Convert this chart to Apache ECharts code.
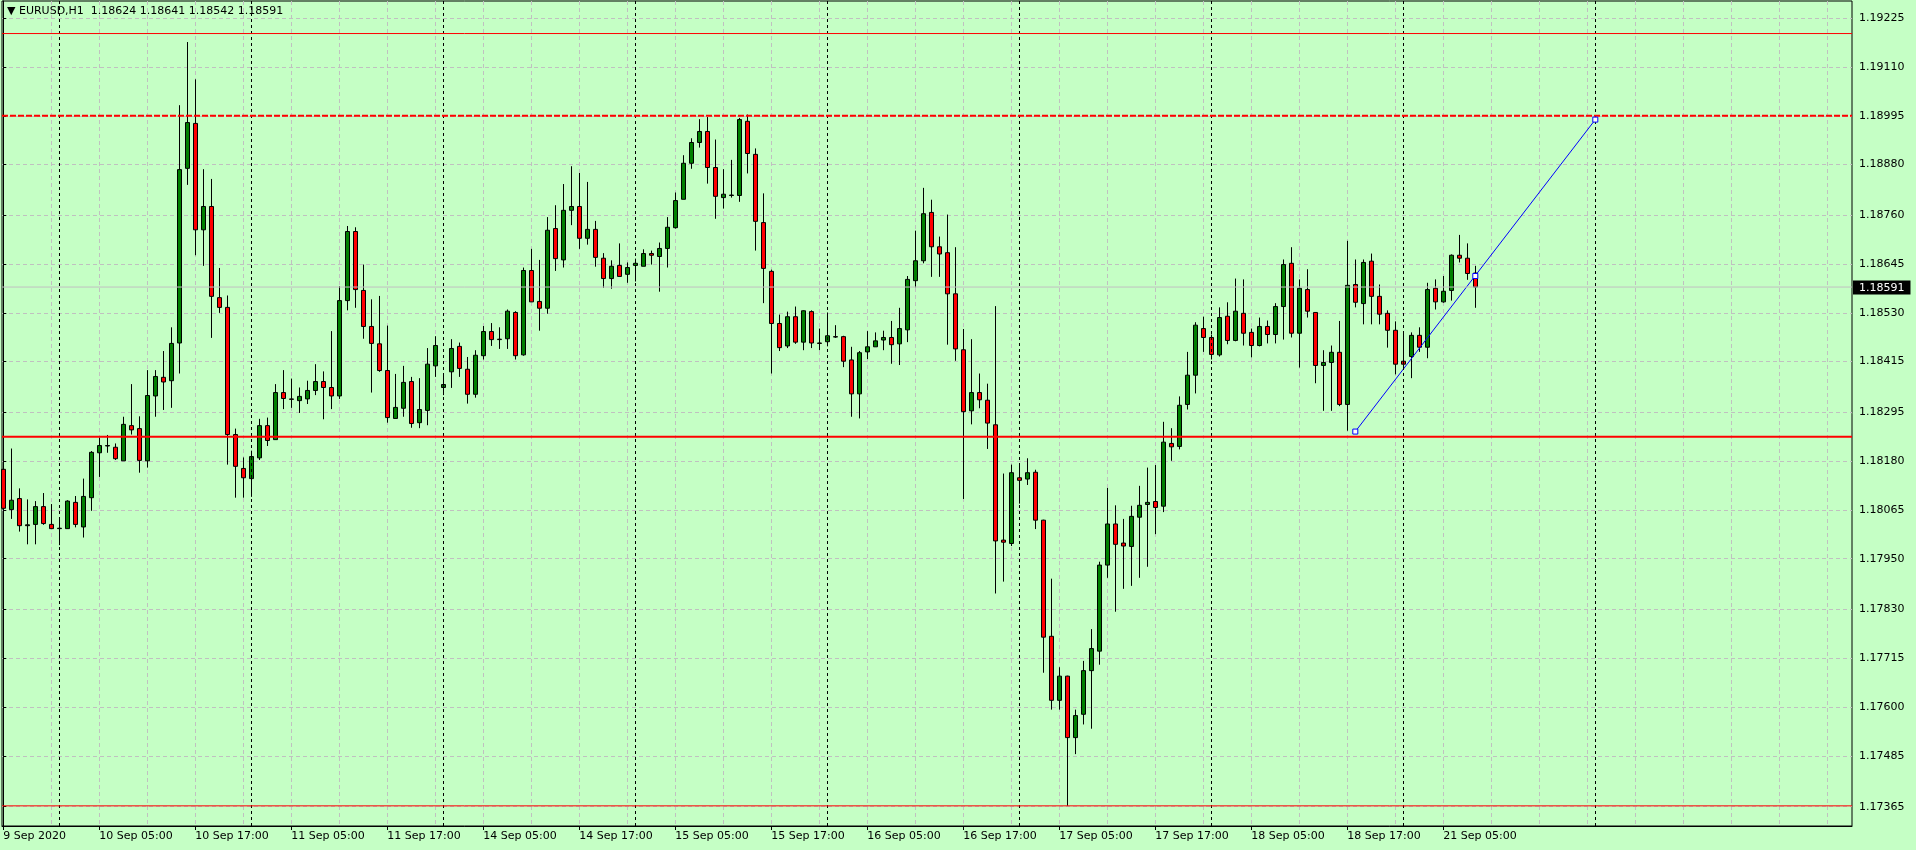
<!DOCTYPE html>
<html><head><meta charset="utf-8">
<script src="https://cdn.jsdelivr.net/npm/echarts@6/dist/echarts.min.js"></script>
<style>html,body{margin:0;padding:0;background:#c5ffc5;}#c{width:1916px;height:850px;}</style>
</head><body><div id="c"></div>
<script>
const symbolName = 'EURUSD,H1';
const open = [1.18161,1.18066,1.18092,1.18028,1.18031,1.18073,1.18031,1.18021,1.18021,1.18083,
1.18025,1.18094,1.18200,1.18216,1.18213,1.18181,1.18264,1.18257,1.18181,1.18334,
1.18378,1.18370,1.18459,1.18871,1.18977,1.18726,1.18781,1.18566,1.18543,1.18243,
1.18163,1.18139,1.18188,1.18264,1.18231,1.18342,1.18327,1.18323,1.18327,1.18347,
1.18368,1.18354,1.18334,1.18559,1.18722,1.18583,1.18498,1.18457,1.18394,1.18281,
1.18305,1.18368,1.18271,1.18300,1.18405,1.18354,1.18391,1.18451,1.18397,1.18338,
1.18429,1.18486,1.18467,1.18469,1.18531,1.18431,1.18630,1.18557,1.18541,1.18729,
1.18655,1.18772,1.18781,1.18706,1.18727,1.18659,1.18611,1.18642,1.18621,1.18642,
1.18640,1.18670,1.18663,1.18682,1.18731,1.18798,1.18883,1.18932,1.18958,1.18873,
1.18802,1.18807,1.18807,1.18982,1.18904,1.18743,1.18628,1.18505,1.18452,1.18521,
1.18461,1.18533,1.18459,1.18462,1.18474,1.18474,1.18419,1.18339,1.18438,1.18450,
1.18466,1.18472,1.18457,1.18490,1.18606,1.18653,1.18767,1.18686,1.18672,1.18575,
1.18443,1.18299,1.18342,1.18324,1.18266,1.17994,1.17986,1.18141,1.18138,1.18154,
1.18041,1.17767,1.17616,1.17673,1.17528,1.17583,1.17686,1.17732,1.17935,1.18032,
1.17987,1.17979,1.18048,1.18078,1.18085,1.18074,1.18222,1.18215,1.18314,1.18383,
1.18493,1.18472,1.18431,1.18522,1.18465,1.18529,1.18484,1.18453,1.18498,1.18479,
1.18545,1.18647,1.18482,1.18585,1.18531,1.18406,1.18413,1.18437,1.18314,1.18597,
1.18552,1.18652,1.18569,1.18529,1.18489,1.18416,1.18427,1.18477,1.18449,1.18588,
1.18556,1.18583,1.18666,1.18659,1.18624];
const high = [1.18334,1.18210,1.18116,1.18090,1.18086,1.18105,1.18079,1.18045,1.18088,1.18098,
1.18139,1.18204,1.18236,1.18242,1.18222,1.18285,1.18362,1.18286,1.18395,1.18395,
1.18440,1.18496,1.19020,1.19169,1.19081,1.18869,1.18846,1.18636,1.18571,1.18257,
1.18189,1.18205,1.18280,1.18283,1.18362,1.18395,1.18375,1.18354,1.18370,1.18409,
1.18392,1.18487,1.18593,1.18735,1.18732,1.18644,1.18562,1.18570,1.18500,1.18386,
1.18405,1.18379,1.18376,1.18447,1.18475,1.18386,1.18468,1.18460,1.18426,1.18442,
1.18499,1.18506,1.18496,1.18538,1.18534,1.18637,1.18681,1.18655,1.18756,1.18784,
1.18834,1.18876,1.18860,1.18839,1.18747,1.18671,1.18654,1.18694,1.18649,1.18658,
1.18680,1.18677,1.18696,1.18756,1.18814,1.18902,1.18942,1.18987,1.18992,1.18939,
1.18869,1.18891,1.18990,1.18998,1.18918,1.18812,1.18632,1.18526,1.18533,1.18545,
1.18536,1.18536,1.18493,1.18531,1.18501,1.18476,1.18450,1.18440,1.18487,1.18484,
1.18488,1.18511,1.18542,1.18617,1.18724,1.18825,1.18797,1.18710,1.18762,1.18685,
1.18492,1.18468,1.18387,1.18363,1.18546,1.18151,1.18172,1.18174,1.18187,1.18160,
1.18042,1.17903,1.17694,1.17674,1.17594,1.17709,1.17784,1.17943,1.18117,1.18076,
1.18044,1.18075,1.18122,1.18165,1.18171,1.18273,1.18258,1.18333,1.18438,1.18508,
1.18521,1.18479,1.18543,1.18555,1.18611,1.18609,1.18493,1.18519,1.18512,1.18553,
1.18656,1.18685,1.18609,1.18633,1.18531,1.18442,1.18453,1.18511,1.18700,1.18656,
1.18656,1.18670,1.18597,1.18536,1.18510,1.18484,1.18484,1.18496,1.18601,1.18609,
1.18617,1.18668,1.18714,1.18694,1.18641];
const low = [1.18053,1.18044,1.18014,1.17984,1.17984,1.18030,1.18021,1.17982,1.18021,1.18024,
1.18000,1.18063,1.18143,1.18200,1.18183,1.18181,1.18243,1.18153,1.18165,1.18285,
1.18301,1.18306,1.18387,1.18832,1.18666,1.18641,1.18471,1.18530,1.18172,1.18094,
1.18094,1.18096,1.18183,1.18216,1.18231,1.18303,1.18306,1.18294,1.18315,1.18336,
1.18279,1.18303,1.18327,1.18536,1.18542,1.18469,1.18342,1.18391,1.18271,1.18281,
1.18285,1.18259,1.18258,1.18265,1.18379,1.18336,1.18353,1.18379,1.18316,1.18330,
1.18420,1.18452,1.18445,1.18445,1.18420,1.18429,1.18556,1.18488,1.18528,1.18629,
1.18637,1.18737,1.18681,1.18691,1.18639,1.18589,1.18587,1.18616,1.18601,1.18604,
1.18640,1.18644,1.18580,1.18637,1.18729,1.18798,1.18870,1.18920,1.18835,1.18752,
1.18776,1.18802,1.18792,1.18859,1.18677,1.18553,1.18387,1.18440,1.18447,1.18457,
1.18442,1.18447,1.18442,1.18451,1.18471,1.18402,1.18285,1.18281,1.18421,1.18450,
1.18442,1.18410,1.18407,1.18461,1.18590,1.18647,1.18615,1.18615,1.18455,1.18417,
1.18091,1.18267,1.18305,1.18209,1.17868,1.17896,1.17980,1.18080,1.18124,1.18020,
1.17681,1.17594,1.17594,1.17367,1.17489,1.17559,1.17549,1.17700,1.17905,1.17825,
1.17879,1.17886,1.17905,1.17931,1.18008,1.18060,1.18181,1.18208,1.18302,1.18340,
1.18438,1.18420,1.18427,1.18456,1.18463,1.18453,1.18425,1.18451,1.18458,1.18458,
1.18467,1.18472,1.18401,1.18519,1.18364,1.18299,1.18299,1.18310,1.18252,1.18543,
1.18503,1.18503,1.18503,1.18448,1.18385,1.18397,1.18376,1.18438,1.18423,1.18538,
1.18554,1.18559,1.18649,1.18608,1.18542];
const close = [1.18069,1.18088,1.18028,1.18030,1.18073,1.18033,1.18021,1.18022,1.18086,1.18031,
1.18097,1.18201,1.18217,1.18217,1.18186,1.18267,1.18254,1.18182,1.18335,1.18380,
1.18367,1.18458,1.18868,1.18979,1.18726,1.18781,1.18569,1.18543,1.18243,1.18168,
1.18141,1.18191,1.18264,1.18229,1.18342,1.18328,1.18326,1.18333,1.18347,1.18368,
1.18354,1.18334,1.18559,1.18722,1.18585,1.18498,1.18458,1.18394,1.18283,1.18307,
1.18366,1.18269,1.18302,1.18409,1.18453,1.18361,1.18446,1.18399,1.18338,1.18430,
1.18486,1.18467,1.18468,1.18534,1.18429,1.18630,1.18556,1.18541,1.18725,1.18658,
1.18772,1.18781,1.18706,1.18727,1.18661,1.18611,1.18640,1.18616,1.18637,1.18647,
1.18670,1.18666,1.18682,1.18732,1.18795,1.18883,1.18932,1.18958,1.18873,1.18805,
1.18810,1.18808,1.18986,1.18906,1.18746,1.18635,1.18505,1.18448,1.18521,1.18461,
1.18535,1.18459,1.18458,1.18476,1.18473,1.18416,1.18339,1.18436,1.18450,1.18464,
1.18472,1.18455,1.18493,1.18609,1.18653,1.18764,1.18686,1.18669,1.18575,1.18445,
1.18297,1.18342,1.18325,1.18270,1.17992,1.17989,1.18153,1.18135,1.18153,1.18041,
1.17765,1.17616,1.17673,1.17528,1.17580,1.17686,1.17738,1.17935,1.18032,1.17984,
1.17980,1.18050,1.18076,1.18083,1.18071,1.18225,1.18214,1.18312,1.18383,1.18501,
1.18472,1.18432,1.18519,1.18465,1.18534,1.18482,1.18453,1.18498,1.18479,1.18545,
1.18644,1.18482,1.18588,1.18534,1.18406,1.18413,1.18437,1.18314,1.18595,1.18555,
1.18649,1.18569,1.18527,1.18489,1.18409,1.18409,1.18477,1.18449,1.18585,1.18556,
1.18581,1.18666,1.18659,1.18623,1.18591];

const xLabelBars = [0,12,24,36,48,60,72,84,96,108,120,132,144,156,168,180];
const xLabels = ['9 Sep 2020','10 Sep 05:00','10 Sep 17:00','11 Sep 05:00','11 Sep 17:00','14 Sep 05:00',
  '14 Sep 17:00','15 Sep 05:00','15 Sep 17:00','16 Sep 05:00','16 Sep 17:00','17 Sep 05:00',
  '17 Sep 17:00','18 Sep 05:00','18 Sep 17:00','21 Sep 05:00'];
const gridBars = [0,6,12,18,24,30,36,42,48,54,60,66,72,78,84,90,96,102,108,114,120,126,132,138,
  144,150,156,162,168,174,180,186,192,198,204,210,216,222,228];
const daySeparators = [7,31,55,79,103,127,151,175,199];
const yTicks = [1.19225,1.19110,1.18995,1.18880,1.18760,1.18645,1.18530,1.18415,1.18295,
  1.18180,1.18065,1.17950,1.17830,1.17715,1.17600,1.17485,1.17365];
const levelTopThin = 1.19189;
const levelDashed = 1.18995;
const levelThick = 1.18238;
const levelBottomThin = 1.17367;
const trendBars = [169, 184, 199];
const trendPrices = [1.18250, 1.18617, 1.18986];

const last = close.length - 1;
const currentPrice = close[last];
const candleData = open.map((o, k) => [k, o, close[k], low[k], high[k]]);
const headerText = '\u25BC ' + symbolName + '  ' +
  [open[last], high[last], low[last], close[last]].map(v => v.toFixed(5)).join(' ');

const FONT = 'DejaVu Sans';
const GRID_COLOR = '#c0c0c0';
const X_MIN = -0.1625, X_MAX = 231.0875;
const xRange = {min: X_MIN, max: X_MAX};

function hLine(value, color, type, width) {
  return {
    type: 'line', xAxisIndex: 0, yAxisIndex: 0, silent: true, symbol: 'none', z: 5,
    data: [[X_MIN, value], [X_MAX, value]],
    lineStyle: {color: color, type: type, width: width}
  };
}

const chart = echarts.init(document.getElementById('c'), null, {renderer: 'canvas'});
chart.setOption({
  animation: false,
  backgroundColor: '#c5ffc5',
  textStyle: {fontFamily: FONT},
  title: {
    text: headerText, left: 7, top: 6, padding: 0,
    textStyle: {fontFamily: FONT, fontSize: 11, fontWeight: 'normal', color: '#000'}
  },
  grid: {left: 2, top: 1, right: 64, bottom: 24, show: true, borderColor: '#000', borderWidth: 1,
         backgroundColor: 'transparent', containLabel: false},
  xAxis: [{
    type: 'value', min: X_MIN, max: X_MAX, position: 'bottom',
    axisLine: {show: true, onZero: false, lineStyle: {color: '#000', width: 1}},
    axisTick: {show: true, length: 4, inside: false, customValues: xLabelBars, lineStyle: {color: '#000'}},
    axisLabel: {show: true, customValues: xLabelBars, align: 'left', margin: 5,
      fontFamily: FONT, fontSize: 11, color: '#000',
      formatter: v => { const i = xLabelBars.indexOf(Math.round(v)); return i >= 0 ? xLabels[i] : ''; }},
    splitLine: {show: false}
  }, {
    type: 'value', min: X_MIN, max: X_MAX, position: 'top',
    axisLine: {show: false}, axisLabel: {show: false},
    axisTick: {show: false, customValues: gridBars},
    splitLine: {show: true, lineStyle: {color: GRID_COLOR, type: [4, 3], width: 1}}
  }],
  yAxis: [{
    type: 'value', position: 'right', min: 1.17319466, max: 1.19265814, scale: true,
    axisLine: {show: true, lineStyle: {color: '#000', width: 1}},
    axisTick: {show: true, length: 3, inside: false, customValues: yTicks, lineStyle: {color: '#000'}},
    axisLabel: {show: true, customValues: yTicks, margin: 7, fontFamily: FONT, fontSize: 11, color: '#000',
      formatter: v => v.toFixed(5)},
    splitLine: {show: true, lineStyle: {color: GRID_COLOR, type: [4, 3], width: 1}}
  }],
  series: [
    hLine(currentPrice, '#c0c0c0', 'solid', 1),
    {
      type: 'candlestick',
      xAxisIndex: 0, yAxisIndex: 0,
      encode: {x: 0, y: [1, 2, 3, 4]},
      data: candleData,
      barWidth: 4,
      itemStyle: {color: '#008000', color0: '#ff0000', borderColor: '#000', borderColor0: '#000',
                  borderColorDoji: '#000', borderWidth: 1},
      silent: true, z: 3
    },
    {
      type: 'line', xAxisIndex: 0, yAxisIndex: 0, silent: true, symbol: 'none', z: 4,
      data: [[trendBars[0], trendPrices[0]], [trendBars[2], trendPrices[2]]],
      lineStyle: {color: '#0000ff', width: 1},
      markLine: {
        silent: true, symbol: ['none', 'none'], animation: false,
        label: {show: false},
        lineStyle: {color: '#000', type: [3, 3], width: 1},
        data: daySeparators.map(v => ({xAxis: v}))
      }
    },
    hLine(levelTopThin, '#ff0000', 'solid', 1),
    hLine(levelDashed, '#ff0000', [6, 2], 2),
    hLine(levelThick, '#ff0000', 'solid', 2),
    hLine(levelBottomThin, '#ff0000', 'solid', 1),
    {
      type: 'scatter', xAxisIndex: 0, yAxisIndex: 0, silent: true,
      data: trendBars.map((b, i) => [b, trendPrices[i]]),
      symbol: 'rect', symbolSize: 5,
      itemStyle: {color: '#ffffff', borderColor: '#0000ff', borderWidth: 1, opacity: 1}, z: 7
    }
  ],
  graphic: []
});

// current price tag on the right axis
const py = chart.convertToPixel({xAxisIndex: 0, yAxisIndex: 0}, [X_MAX, currentPrice]);
chart.setOption({
  graphic: [{
    type: 'text', left: py[0] + 1, top: py[1] - 6.5, z: 100,
    style: {text: currentPrice.toFixed(5), fill: '#fff', backgroundColor: '#000',
            padding: [1, 6, 0, 6], font: '11px "DejaVu Sans"', lineHeight: 13}
  }]
});
</script></body></html>
